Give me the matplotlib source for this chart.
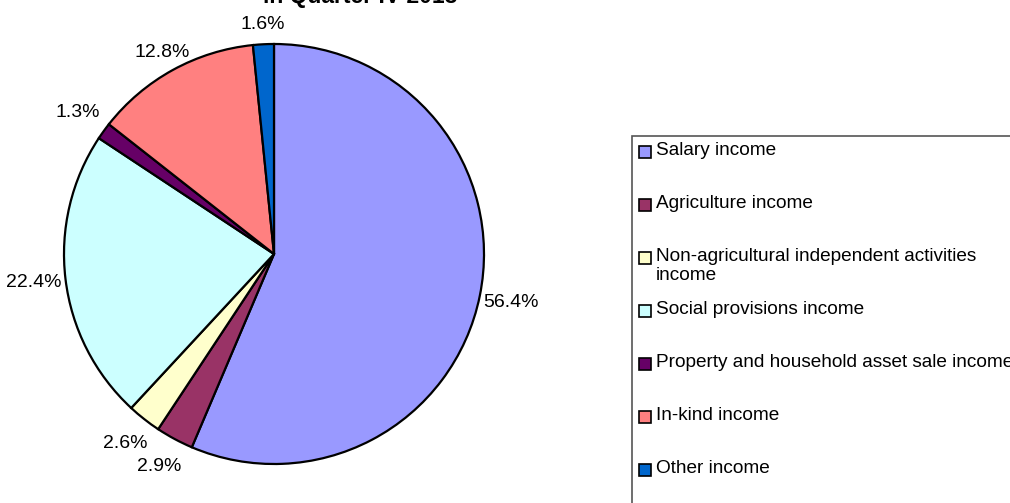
import matplotlib.pyplot as plt
from matplotlib.patches import Rectangle

plt.rcParams["font.family"] = ["Liberation Sans", "DejaVu Sans"]

categories = [
    "Salary income",
    "Agriculture income",
    "Non-agricultural independent activities\nincome",
    "Social provisions income",
    "Property and household asset sale income",
    "In-kind income",
    "Other income",
]
shares = [56.4, 2.9, 2.6, 22.4, 1.3, 12.8, 1.6]
colors = ["#9999FF", "#993366", "#FFFFCC", "#CCFFFF", "#660066", "#FF8080", "#0066CC"]
title = "in Quarter IV 2013"

W, H = 1010, 503
fig = plt.figure(figsize=(W / 100, H / 100), dpi=100)

# pie: centre (274, 254) px, radius 210 px
cx, cy, r = 274, 254, 210
ax = fig.add_axes([(cx - r) / W, (H - cy - r) / H, 2 * r / W, 2 * r / H])
wedges, texts = ax.pie(
    shares,
    labels=[f"{v:.1f}%" for v in shares],
    colors=colors,
    startangle=90,
    counterclock=False,
    labeldistance=1.15,
    wedgeprops=dict(edgecolor="black", linewidth=1.6),
    textprops=dict(fontsize=14),
)
for t in texts:
    t.set_ha("center")
    t.set_va("center")
    # labels near the top sit a little closer, like Excel's outside-end placement
    x, y = t.get_position()
    if y > 1.0:
        t.set_position((x * 0.96, y * 0.95))
ax.set_xlim(-1, 1)
ax.set_ylim(-1, 1)
ax.set_aspect("equal")
ax.axis("off")

# title, mostly clipped at the top like the original
fig.text(360 / W, 1 - 2.5 / H, title, ha="center", va="baseline",
         fontsize=16.5, fontweight="bold")

# legend box running off the right and bottom edges
fig.patches.append(Rectangle((632 / W, -0.1), 1.0, 1 - 136 / H + 0.1,
                             transform=fig.transFigure, fill=False,
                             edgecolor="#555555", linewidth=1.2))
for i, (lab, col) in enumerate(zip(categories, colors)):
    yc = 152 + 53 * i
    fig.patches.append(Rectangle((639 / W, 1 - (yc + 6) / H), 12 / W, 12 / H,
                                 transform=fig.transFigure, facecolor=col,
                                 edgecolor="black", linewidth=1.2))
    fig.text(656 / W, 1 - (yc - 10) / H, lab, ha="left", va="top",
             fontsize=13.7, linespacing=1.12)

fig.savefig("out.png", dpi=100)
